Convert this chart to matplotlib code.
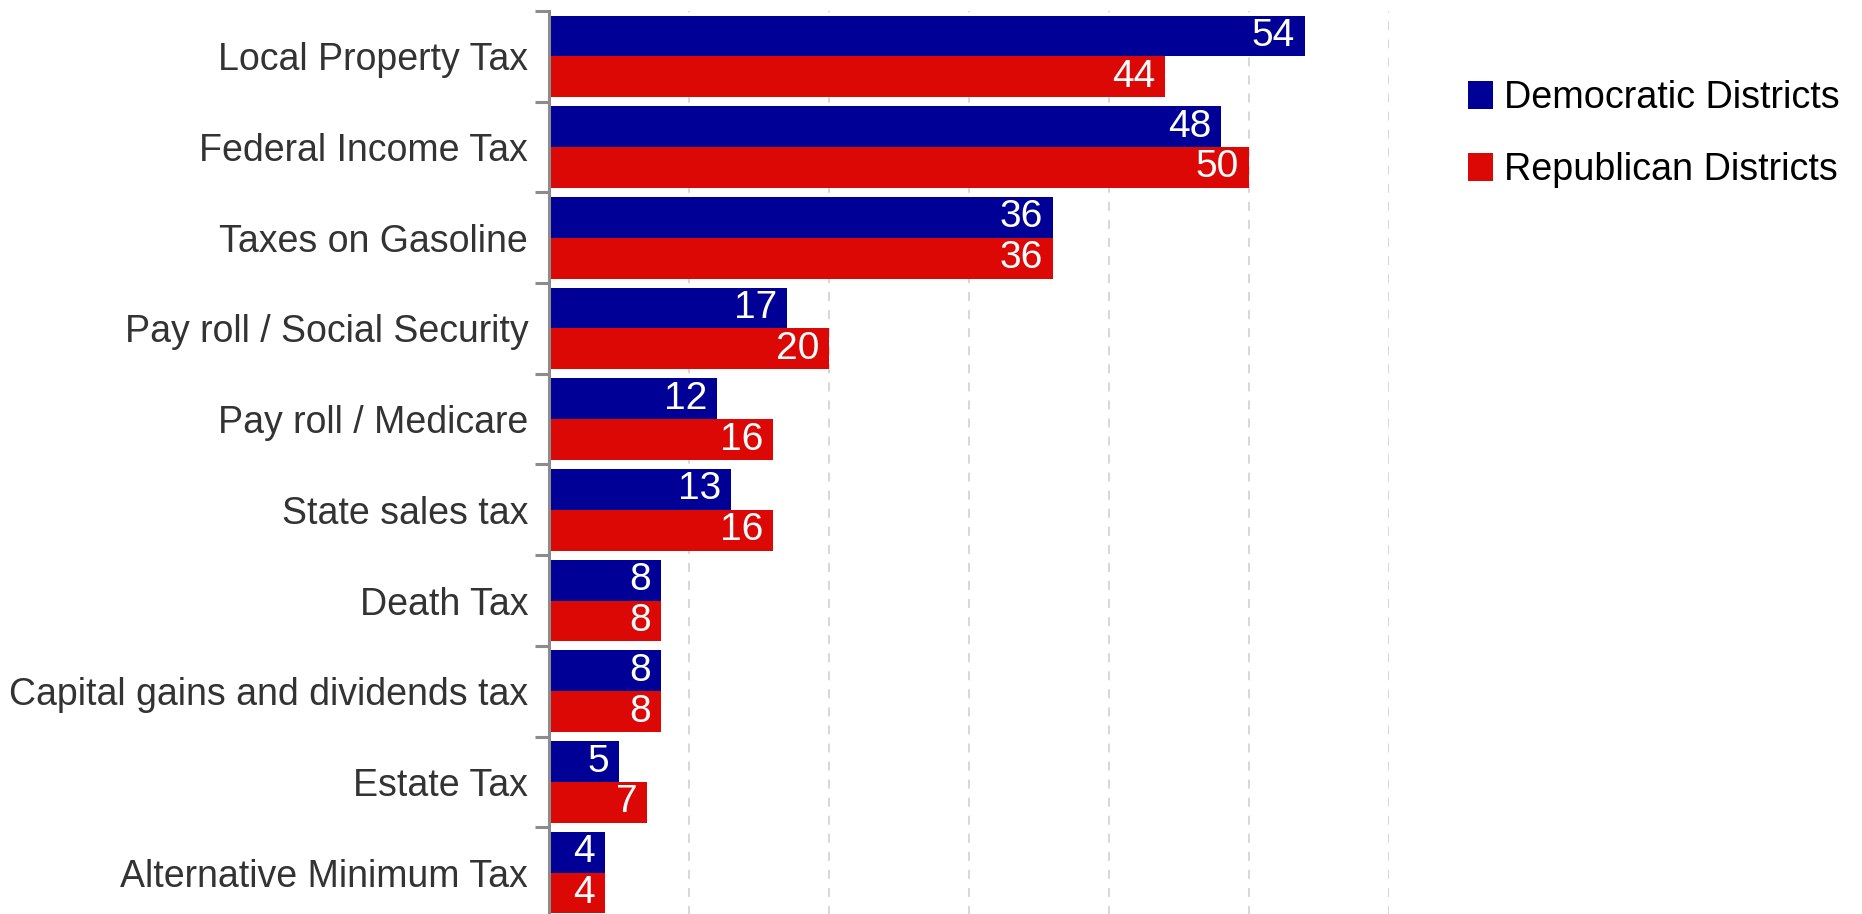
import matplotlib
matplotlib.use('Agg')
import matplotlib.pyplot as plt
import numpy as np

# data
categories = ['Local Property Tax', 'Federal Income Tax', 'Taxes on Gasoline',
              'Pay roll / Social Security', 'Pay roll / Medicare', 'State sales tax',
              'Death Tax', 'Capital gains and dividends tax', 'Estate Tax',
              'Alternative Minimum Tax']
demValues = [54, 48, 36, 17, 12, 13, 8, 8, 5, 4]
repValues = [44, 50, 36, 20, 16, 16, 8, 8, 7, 4]
seriesNames = ['Democratic Districts', 'Republican Districts']
xTicks = [10, 20, 30, 40, 50, 60]

plt.rcParams['font.family'] = ['Liberation Sans Narrow', 'Liberation Sans', 'DejaVu Sans']

W, H = 1862, 914
fig = plt.figure(figsize=(W/100, H/100), dpi=100)
ax = fig.add_axes([549/W, -4/H, (1389-549)/W, 907/H])

blue = '#000096'
red = '#DC0805'
barH = 0.45
pos = np.arange(len(categories))

barsDem = ax.barh(pos - barH/2, demValues, height=barH, color=blue,
                  label=seriesNames[0], zorder=2)
barsRep = ax.barh(pos + barH/2, repValues, height=barH, color=red,
                  label=seriesNames[1], zorder=2)

for bars, vals in [(barsDem, demValues), (barsRep, repValues)]:
    for bar, v in zip(bars, vals):
        ax.text(v - 0.7, bar.get_y() + bar.get_height()/2, str(v),
                ha='right', va='center', color='white', fontsize=28, zorder=3)

ax.set_xlim(0, 60)
ax.set_ylim(len(categories) - 0.5, -0.5)

# vertical dashed grid
for x in xTicks:
    ax.axvline(x, color='#D4D4D4', lw=1.3, ls=(0, (5, 5)), zorder=1)

# boundary ticks as major, labels as minor
ax.set_yticks(np.arange(len(categories) + 1) - 0.5)
ax.set_yticklabels([])
ax.set_yticks(pos, minor=True)
ax.set_yticklabels(categories, minor=True, fontsize=27, color='#333333')
ax.tick_params(axis='y', which='major', length=10, width=2.2, color='#8C8C8C',
               direction='out')
ax.tick_params(axis='y', which='minor', length=0, pad=15)
ax.set_xticks([])

for side in ['top', 'right', 'bottom']:
    ax.spines[side].set_visible(False)
ax.spines['left'].set_color('#8C8C8C')
ax.spines['left'].set_linewidth(2.2)
ax.set_facecolor('none')

leg = fig.legend(handles=[barsDem, barsRep], labels=seriesNames,
                 loc='upper left', bbox_to_anchor=(1468/W, 1 - 80/H),
                 frameon=False, fontsize=27.2, handlelength=0.66,
                 handleheight=0.76, handletextpad=0.28, labelspacing=0.95,
                 borderaxespad=0, borderpad=0)

fig.savefig('out.png', dpi=100)
